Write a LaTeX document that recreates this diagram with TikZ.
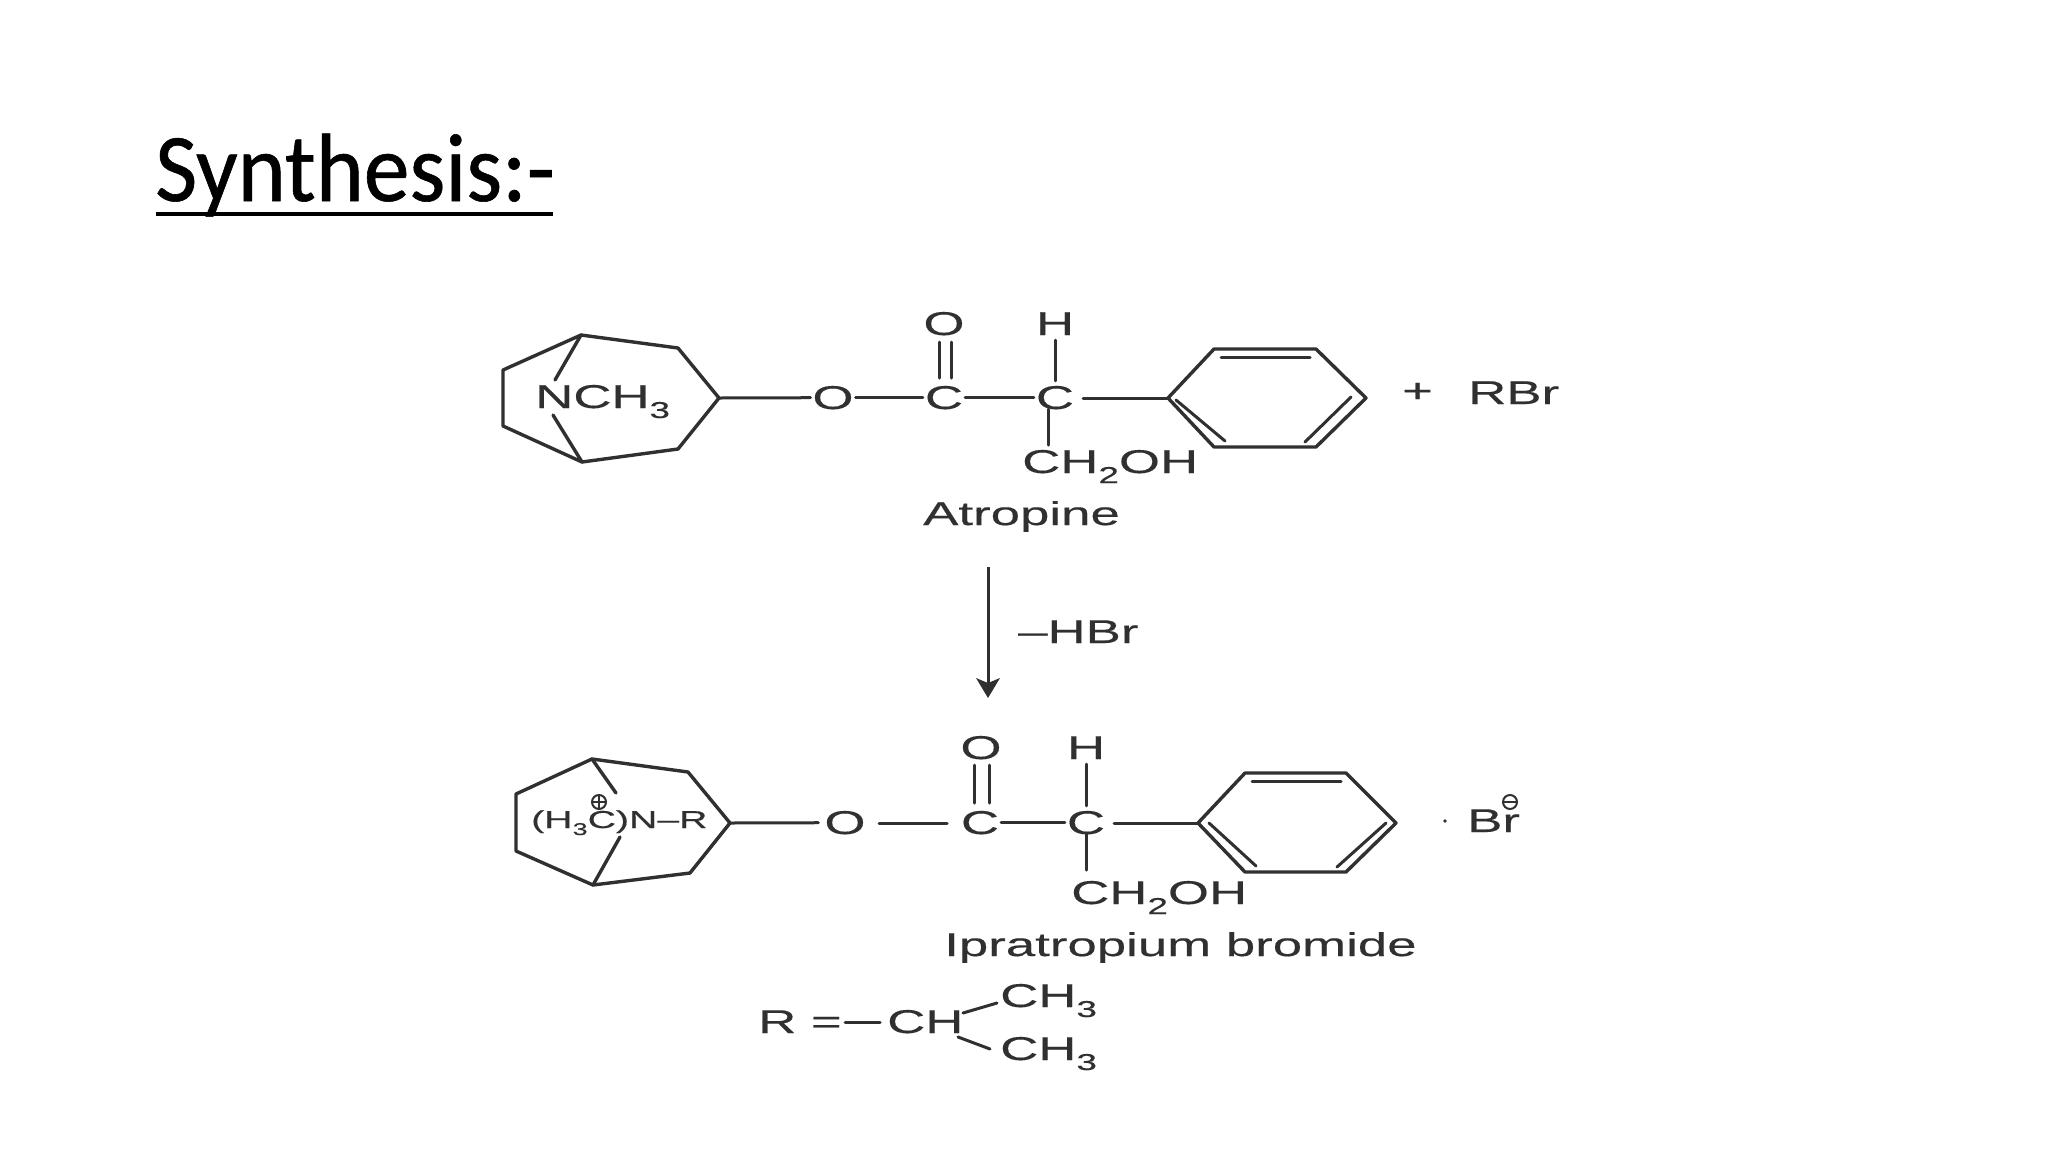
\documentclass[tikz,border=0pt]{standalone}
\usepackage{fontspec}
\setmainfont{Liberation Sans}
\newfontfamily\chemf[FakeStretch=1.6,FakeBold=0.35]{Liberation Sans}
\newfontfamily\titlef[FakeStretch=0.945,FakeBold=0.6]{Carlito}
\newcommand{\sbs}[1]{\raisebox{-10pt}{\fontsize{23}{23}\selectfont #1}}
\newcommand{\sbm}[1]{\raisebox{-7pt}{\fontsize{17}{17}\selectfont #1}}
\definecolor{ink}{HTML}{303030}
\tikzset{
  x=1pt,y=-1pt,
  bond/.style={draw=ink,line width=3.4pt,line cap=round,line join=round},
  thin bond/.style={draw=ink,line width=3pt,line cap=round},
  atom/.style={inner xsep=2pt,inner ysep=5pt,outer sep=0pt,text=ink,anchor=base,font=\chemf\fontsize{33}{33}\selectfont},
  label text/.style={inner sep=0pt,text=ink,anchor=base west,font=\chemf\fontsize{33}{33}\selectfont},
  small text/.style={inner sep=0pt,text=ink,anchor=base west,font=\chemf\fontsize{24.5}{24.5}\selectfont},
}
\begin{document}
\begin{tikzpicture}
\useasboundingbox[fill=white] (0,0) rectangle (2048,1152);
% title
\node[inner sep=0pt,anchor=base west,text=black,font=\titlef\fontsize{97}{97}\selectfont] (title) at (155,201) {Synthesis:-};
\coordinate (ula) at (156,214); \coordinate (ulb) at (553,214);
\draw[black,line width=4.5pt] (ula) -- (ulb);

% --- Atropine ---
\coordinate (a1) at (581,335); \coordinate (a2) at (678,348); \coordinate (a3) at (719,398);
\coordinate (a4) at (678,449); \coordinate (a5) at (582,462); \coordinate (a6) at (503,426); \coordinate (a7) at (503,370);
\coordinate (a8) at (555,380); \coordinate (a9) at (553,415);
\draw[bond] (a1) -- (a2) -- (a3) -- (a4) -- (a5) -- (a6) -- (a7) -- cycle;
\draw[bond] (a1) -- (a8);
\draw[bond] (a9) -- (a5);
\node[label text] (nch) at (535,408) {NCH\sbs{3}};
\node[atom] (o1) at (833,409) {O};
\node[atom] (c1) at (944,409) {C};
\node[atom] (c2) at (1055,409) {C};
\node[atom] (o2) at (944,335) {O};
\node[atom] (h1) at (1055,335) {H};
\draw[thin bond] (a3) -- (o1);
\draw[thin bond] (o1) -- (c1);
\draw[thin bond] (c1) -- (c2);
\draw[thin bond] (h1) -- (c2);
\coordinate (dal) at (939,342); \coordinate (dbl) at (939,378);
\coordinate (dar) at (951,342); \coordinate (dbr) at (951,378);
\draw[thin bond] (dal) -- (dbl);
\draw[thin bond] (dar) -- (dbr);
\coordinate (sa) at (1048,409); \coordinate (sb) at (1048,445);
\draw[thin bond] (sa) -- (sb);
\node[label text] (ch2oh) at (1022,473) {CH\sbs{2}OH};
\node[label text] (atropine) at (923,525) {Atropine};
% phenyl
\coordinate (p1) at (1168,398); \coordinate (p2) at (1214,349); \coordinate (p3) at (1316,349);
\coordinate (p4) at (1366,398); \coordinate (p5) at (1316,447); \coordinate (p6) at (1214,447);
\draw[bond] (p1) -- (p2) -- (p3) -- (p4) -- (p5) -- (p6) -- cycle;
\coordinate (pa) at (1221,357); \coordinate (pb) at (1310,357);
\coordinate (pc) at (1176,400); \coordinate (pd) at (1225,441);
\coordinate (pe) at (1351,397); \coordinate (pf) at (1305,442);
\draw[thin bond] (pa) -- (pb);
\draw[thin bond] (pc) -- (pd);
\draw[thin bond] (pe) -- (pf);
\coordinate (c2r) at (1083,398);
\draw[thin bond] (c2r) -- (p1);
\node[label text] (plus) at (1402,402) {+};
\node[label text] (rbr) at (1468,404) {RBr};

% --- arrow ---
\coordinate (ar1) at (988,567); \coordinate (ar2) at (988,698);
\coordinate (hl) at (976,678); \coordinate (hr) at (1000,678); \coordinate (hm) at (988,683);
\draw[draw=ink,line width=3pt] (ar1) -- (hm);
\fill[ink] (ar2) -- (hl) -- (hm) -- (hr) -- cycle;
\node[label text] (hbr) at (1018,643) {–HBr};

% --- Ipratropium ---
\coordinate (b1) at (592,759); \coordinate (b2) at (688,772); \coordinate (b3) at (730,823);
\coordinate (b4) at (690,873); \coordinate (b5) at (593,885); \coordinate (b6) at (516,851); \coordinate (b7) at (516,794);
\coordinate (b8) at (616,793); \coordinate (b9) at (620,837);
\draw[bond] (b1) -- (b2) -- (b3) -- (b4) -- (b5) -- (b6) -- (b7) -- cycle;
\draw[bond] (b1) -- (b8);
\draw[bond] (b9) -- (b5);
\node[small text] (nr) at (531,828) {(H\sbm{3}C)N–R};
\coordinate (cp) at (599,802);
\draw[ink,line width=2pt] (cp) circle (7);
\coordinate (cpa) at (592,802); \coordinate (cpb) at (606,802); \coordinate (cpc) at (599,795); \coordinate (cpd) at (599,809);
\draw[ink,line width=1.8pt] (cpa) -- (cpb);
\draw[ink,line width=1.8pt] (cpc) -- (cpd);
\node[atom,inner xsep=6pt] (o3) at (845,834) {O};
\node[atom] (c3) at (980,834) {C};
\node[atom] (c4) at (1086,834) {C};
\node[atom] (o4) at (981,759) {O};
\node[atom] (h2) at (1086,759) {H};
\coordinate (o3r) at (879,823); \coordinate (c3l) at (947,823);
\draw[thin bond] (b3) -- (o3);
\draw[thin bond] (o3r) -- (c3l);
\draw[thin bond] (c3) -- (c4);
\draw[thin bond] (h2) -- (c4);
\coordinate (eal) at (974,765); \coordinate (ebl) at (974,803);
\coordinate (ear) at (989,765); \coordinate (ebr) at (989,803);
\draw[thin bond] (eal) -- (ebl);
\draw[thin bond] (ear) -- (ebr);
\coordinate (ta) at (1086,833); \coordinate (tb) at (1086,870);
\draw[thin bond] (ta) -- (tb);
\node[label text] (ch2ohb) at (1071,904) {CH\sbs{2}OH};
\node[label text] (iprat) at (944,956) {Ipratropium bromide};
\coordinate (q1) at (1198,823); \coordinate (q2) at (1245,773); \coordinate (q3) at (1346,773);
\coordinate (q4) at (1396,823); \coordinate (q5) at (1346,872); \coordinate (q6) at (1245,872);
\draw[bond] (q1) -- (q2) -- (q3) -- (q4) -- (q5) -- (q6) -- cycle;
\coordinate (qa) at (1252,781); \coordinate (qb) at (1341,781);
\coordinate (qc) at (1209,823); \coordinate (qd) at (1256,866);
\coordinate (qe) at (1386,823); \coordinate (qf) at (1337,867);
\draw[thin bond] (qa) -- (qb);
\draw[thin bond] (qc) -- (qd);
\draw[thin bond] (qe) -- (qf);
\coordinate (c4r) at (1114,823);
\draw[thin bond] (c4r) -- (q1);
\coordinate (dot) at (1445,821);
\fill[ink] (dot) circle (1.8);
\node[label text] (br) at (1467,832) {Br};
\coordinate (cm) at (1510,802);
\draw[ink,line width=2pt] (cm) circle (7);
\coordinate (cma) at (1503,802); \coordinate (cmb) at (1517,802);
\draw[ink,line width=1.8pt] (cma) -- (cmb);

% --- R definition ---
\node[label text] (rr) at (758,1033) {R =};
\node[label text] (ch) at (887,1033) {CH};
\node[label text] (ch3a) at (1000,1007) {CH\sbs{3}};
\node[label text] (ch3b) at (1000,1060) {CH\sbs{3}};
\coordinate (ra) at (845,1022); \coordinate (rb) at (880,1022);
\draw[thin bond] (ra) -- (rb);
\coordinate (rc) at (963,1013); \coordinate (rd) at (997,1003);
\coordinate (re) at (958,1037); \coordinate (rf) at (990,1049);
\draw[thin bond] (rc) -- (rd);
\draw[thin bond] (re) -- (rf);
\end{tikzpicture}
\end{document}
